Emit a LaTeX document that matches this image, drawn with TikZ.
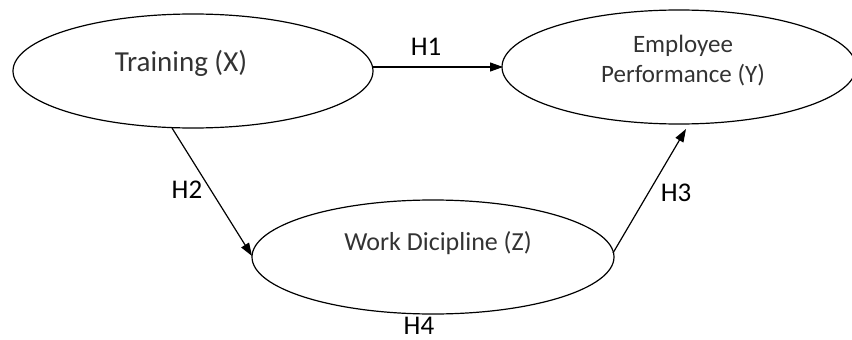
\documentclass[tikz,border=0pt]{standalone}
\usepackage{fontspec}
\setmainfont{Carlito}
\usetikzlibrary{arrows.meta}
\tikzset{
  conn/.style={draw=black, line width=1.2pt, -{Triangle[length=13pt,width=9pt]}},
  hlab/.style={text=black, font=\fontsize{27}{30}\selectfont, inner sep=0pt},
  vtext/.style={text=black!80, align=center, inner sep=0pt},
}
\begin{document}
\begin{tikzpicture}[x=1pt,y=-1pt]
\useasboundingbox (0,0) rectangle (852,340);
\draw[line width=1.2pt] (193,71) ellipse [x radius=180, y radius=57];
\draw[line width=1.2pt] (679,67) ellipse [x radius=177, y radius=57];
\draw[line width=1.2pt] (433,257) ellipse [x radius=181, y radius=57];
\node[vtext, font=\fontsize{29}{34}\selectfont] (x) at (181,63) {Training (X)};
\node[vtext, font=\fontsize{25}{30}\selectfont] (y) at (683,61) {Employee\\Performance (Y)};
\node[vtext, font=\fontsize{26}{30}\selectfont] (z) at (438,243) {Work Dicipline (Z)};
\coordinate (xr) at (373,67);
\coordinate (yl) at (503,67);
\coordinate (xb) at (172,128);
\coordinate (zl) at (252,256);
\coordinate (zr) at (613,253);
\coordinate (yb) at (686,129);
\draw[conn] (xr) -- (yl);
\draw[conn] (xb) -- (zl);
\draw[conn] (zr) -- (yb);
\node[hlab] (h1) at (426,47) {H1};
\node[hlab] (h2) at (187,190) {H2};
\node[hlab] (h3) at (676,193) {H3};
\node[hlab] (h4) at (419,326) {H4};
\end{tikzpicture}
\end{document}
